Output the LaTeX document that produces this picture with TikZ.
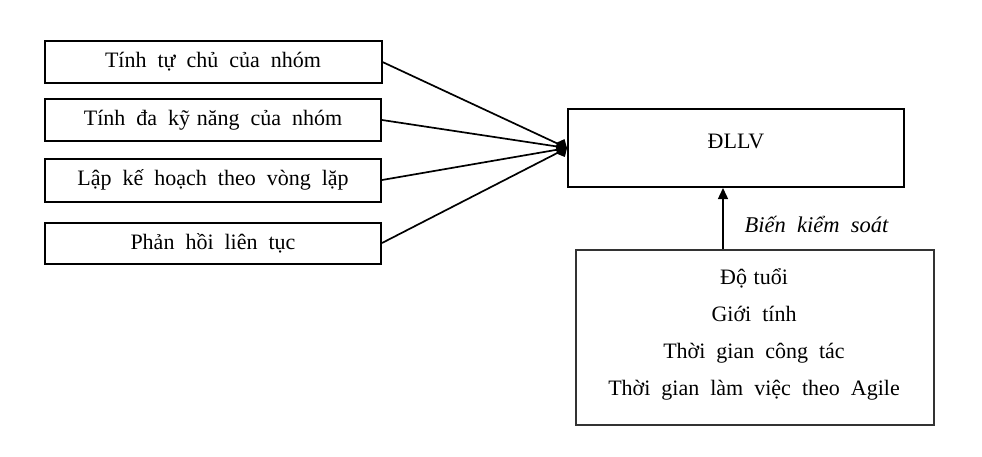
\documentclass[tikz,border=0pt]{standalone}
\usepackage{fontspec}
\setmainfont{Liberation Serif}[WordSpace=2]
\usetikzlibrary{arrows.meta}
\begin{document}
\begin{tikzpicture}[x=1pt,y=-1pt,
  box/.style={draw,line width=2pt,rectangle,inner sep=0pt,font=\fontsize{22}{26}\selectfont},
  txt/.style={font=\fontsize{22}{26}\selectfont},
  link/.style={line width=1.7pt},
  dtip/.style={-{Diamond[length=12pt,width=14pt]}}]
\useasboundingbox (0,0) rectangle (982,456);
\node[box,minimum width=337,minimum height=42] (a) at (213,62) {\raisebox{-3pt}{Tính tự chủ của nhóm}};
\node[box,minimum width=336,minimum height=42] (b) at (213,120) {\raisebox{-3pt}{Tính đa kỹ\hspace{0.3em}năng của nhóm}};
\node[box,minimum width=336,minimum height=43] (c) at (213,180) {\raisebox{-3pt}{Lập kế hoạch theo vòng lặp}};
\node[box,minimum width=336,minimum height=41] (d) at (213,243) {\raisebox{-3pt}{Phản hồi liên tục}};
\node[box,minimum width=336,minimum height=78] (e) at (736,148) {};
\node[txt] (et) at (736,141) {ĐLLV};
\coordinate (tip) at (e.west);
\node[box,draw=black!80,minimum width=358,minimum height=175] (f) at (754.5,337.5) {};
\node[txt,align=center] (ft) at (754,334)
  {Độ\hspace{0.3em}tuổi\\[11pt]Giới tính\\[11pt]Thời gian công tác\\[11pt]Thời gian làm việc theo Agile};
\draw[link,dtip] (a.east) -- (tip);
\draw[link,dtip] (b.east) -- (tip);
\draw[link,dtip] (c.east) -- (tip);
\draw[link,dtip] (d.east) -- (tip);
\draw[line width=1.4pt,-{Triangle[length=11pt,width=10pt]}] (f.north -| 723,0) -- (e.south -| 723,0);
\node[font=\fontsize{22.5}{26}\selectfont\itshape,anchor=west] (lbl) at (741,224) {Biến kiểm soát};
\end{tikzpicture}
\end{document}
